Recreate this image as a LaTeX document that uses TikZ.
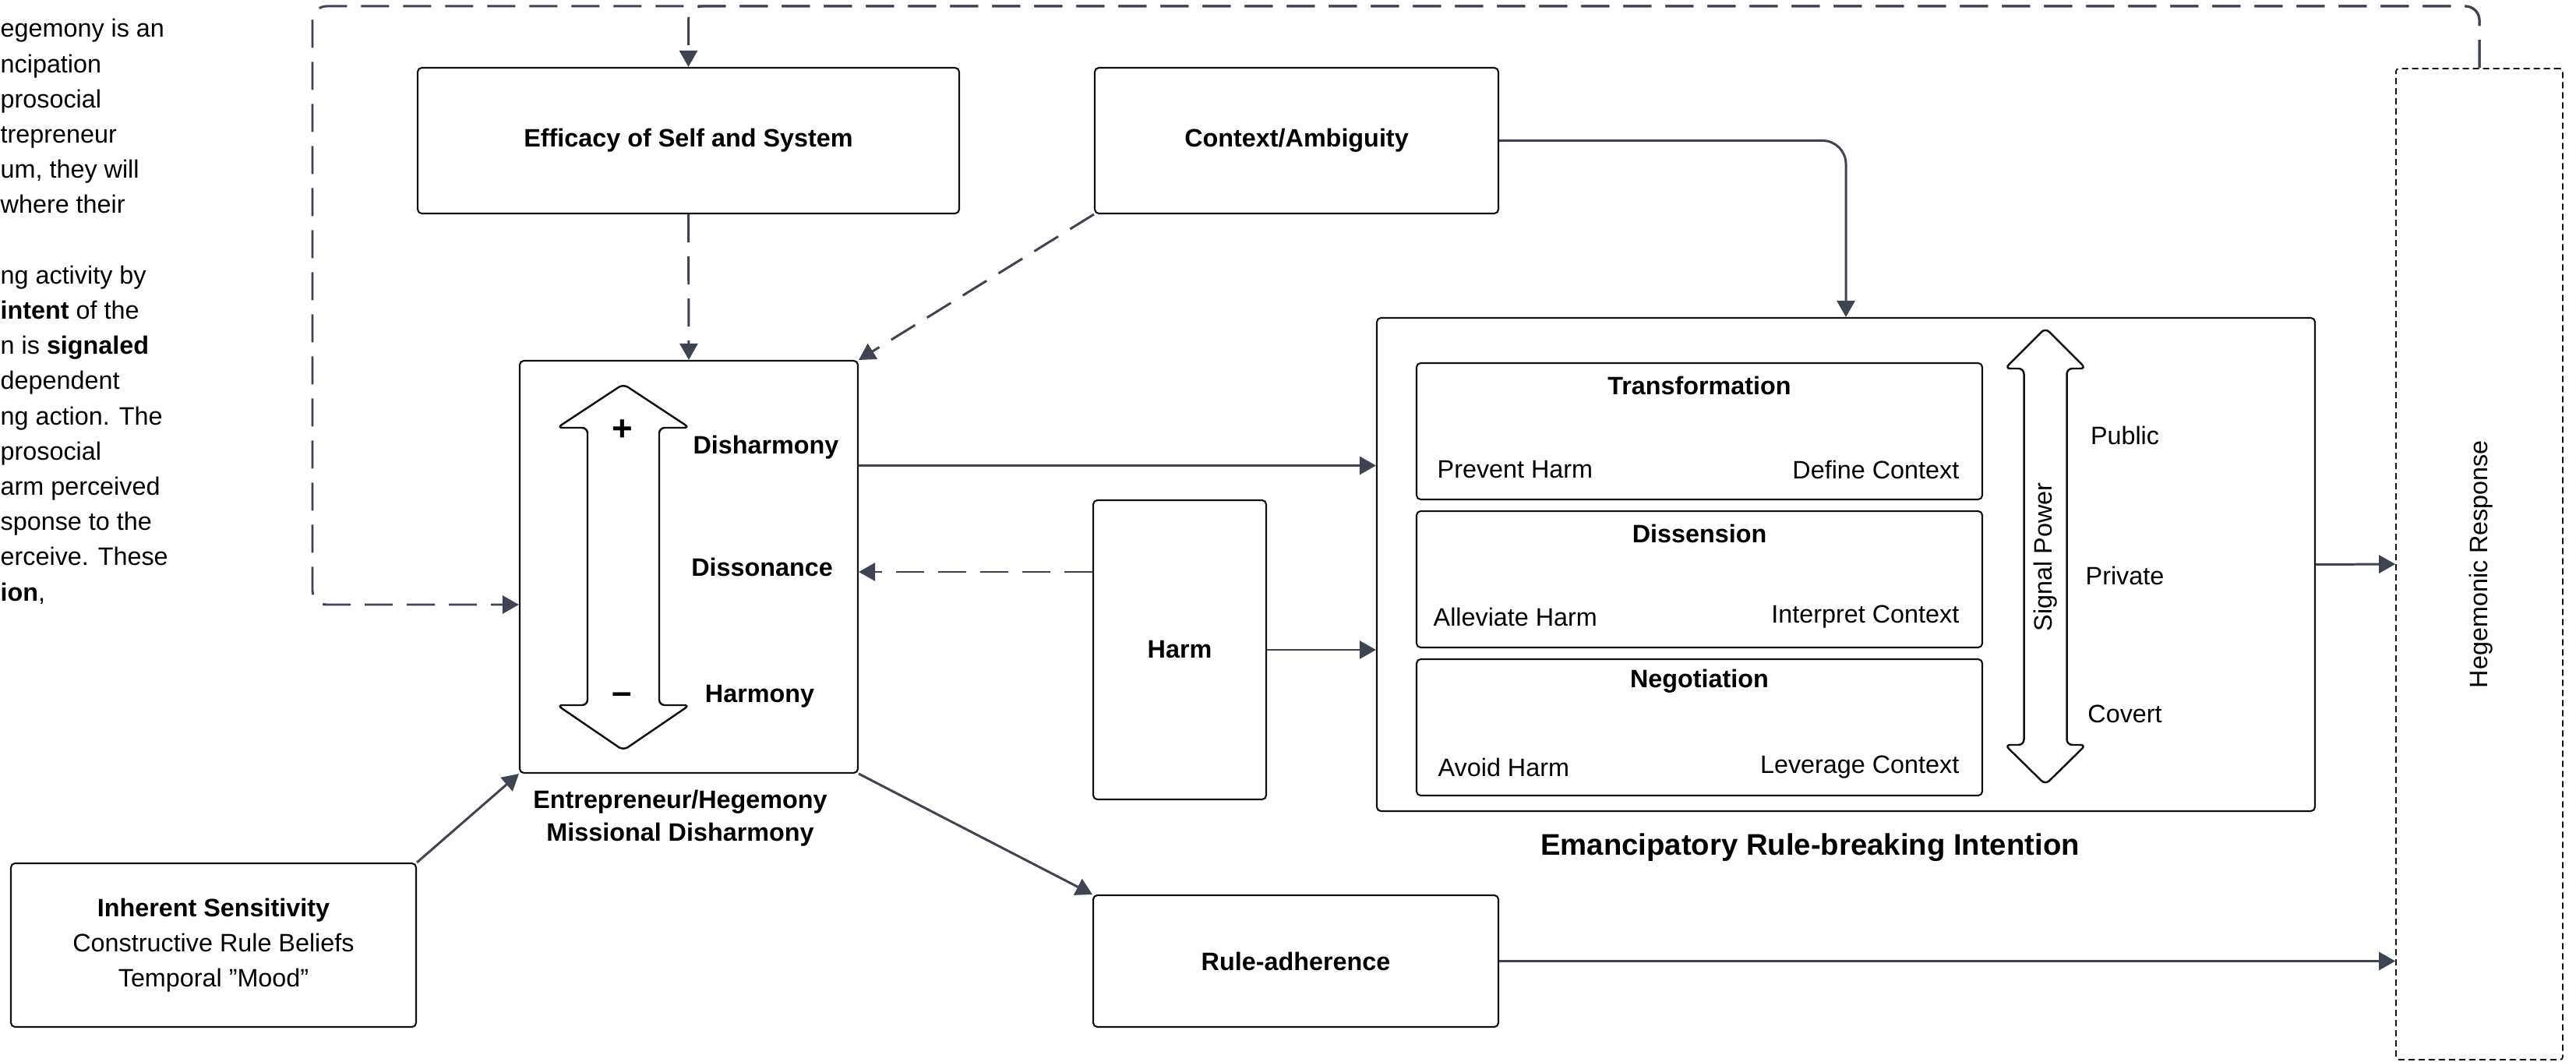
\documentclass[tikz,border=0pt]{standalone}
\usepackage{fontspec}
\setmainfont{Liberation Sans}
\usetikzlibrary{arrows.meta}
\definecolor{wire}{HTML}{3E4451}
\definecolor{ink}{HTML}{111111}

\begin{document}
\begin{tikzpicture}[
  font=\fontsize{9.2}{12.9}\selectfont,
  box/.style={draw=ink, line width=0.6pt, rounded corners=1.5pt},
  title/.style={font=\fontsize{9.2}{12.9}\selectfont\bfseries},
  lbl/.style={inner sep=0pt},
  arr/.style={draw=wire, line width=0.85pt, -{Triangle[length=0.21cm,width=0.23cm]}},
  darr/.style={arr, dash pattern=on 0.36cm off 0.18cm},
  loopback/.style={darr, rounded corners=0.18cm},
  bigarrow/.style={draw=ink, line width=0.7pt, fill=white, rounded corners=2pt}
]
\useasboundingbox (0,0) rectangle (33.06,13.62);

\foreach \txt [count=\k from 0] in {{egemony is an},{ncipation},{prosocial},{trepreneur},{um, they will},{where their},{},{ng activity by},{\textbf{intent} of the},{n is \textbf{signaled}},{dependent},{ng action. The},{prosocial},{arm perceived},{sponse to the},{erceive. These},{\textbf{ion},}}
  \node[lbl, anchor=base west] (intro\k) at (0,13.14-0.452*\k) {\txt};

\node[box, title, minimum width=6.95cm, minimum height=1.87cm] (eff) at (8.835,11.815) {Efficacy of Self and System};
\node[box, title, minimum width=5.18cm, minimum height=1.87cm] (ctx) at (16.64,11.815) {Context/Ambiguity};
\node[box, minimum width=4.34cm, minimum height=5.29cm] (ent) at (8.84,6.345) {};
\node[box, title, minimum width=2.22cm, minimum height=3.84cm] (harm) at (15.14,5.28) {Harm};
\node[box, title, minimum width=5.20cm, minimum height=1.69cm] (rule) at (16.63,1.285) {Rule-adherence};
\node[box, align=center, minimum width=5.20cm, minimum height=2.10cm] (inh) at (2.74,1.49) {\textbf{Inherent Sensitivity}\\Constructive Rule Beliefs\\Temporal "Mood"};

\draw[bigarrow] (8.00,8.69) -- (8.85,8.13) -- (8.46,8.13) -- (8.46,4.57) -- (8.85,4.57) -- (8.00,3.99) -- (7.15,4.57) -- (7.54,4.57) -- (7.54,8.13) -- (7.15,8.13) -- cycle;
\node[lbl, font=\fontsize{13}{15}\selectfont\bfseries] (plus) at (7.99,8.10) {+};
\node[lbl, font=\fontsize{13}{15}\selectfont\bfseries] (minus) at (7.98,4.66) {–};
\node[title] (dish) at (9.83,7.88) {Disharmony};
\node[title] (disso) at (9.78,6.34) {Dissonance};
\node[title] (harmo) at (9.75,4.68) {Harmony};
\node[title, align=center, font=\fontsize{9.2}{11.9}\selectfont\bfseries] (entlabel) at (8.73,3.12) {Entrepreneur/Hegemony\\Missional Disharmony};

\node[box, minimum width=12.04cm, minimum height=6.33cm] (big) at (23.69,6.375) {};
\node[box, minimum width=7.26cm, minimum height=1.75cm] (trans) at (21.81,8.085) {};
\node[box, minimum width=7.26cm, minimum height=1.75cm] (diss) at (21.81,6.185) {};
\node[box, minimum width=7.26cm, minimum height=1.75cm] (nego) at (21.81,4.285) {};

\node[title] (transT) at (21.81,8.67) {Transformation};
\node[lbl, anchor=west] (prevent) at (18.44,7.59) {Prevent Harm};
\node[lbl, anchor=east] (define) at (25.15,7.59) {Define Context};
\node[title] (dissT) at (21.81,6.77) {Dissension};
\node[lbl, anchor=west] (alleviate) at (18.39,5.70) {Alleviate Harm};
\node[lbl, anchor=east] (interpret) at (25.15,5.70) {Interpret Context};
\node[title] (negoT) at (21.81,4.88) {Negotiation};
\node[lbl, anchor=west] (avoid) at (18.45,3.77) {Avoid Harm};
\node[lbl, anchor=east] (leverage) at (25.15,3.77) {Leverage Context};

\draw[bigarrow] (26.25,9.41) -- (26.77,8.89) -- (26.525,8.89) -- (26.525,4.06) -- (26.77,4.06) -- (26.25,3.55) -- (25.73,4.06) -- (25.975,4.06) -- (25.975,8.89) -- (25.73,8.89) -- cycle;
\node[rotate=90] (signal) at (26.25,6.47) {Signal Power};
\node (public) at (27.27,8.03) {Public};
\node (private) at (27.27,6.23) {Private};
\node (covert) at (27.27,4.46) {Covert};

\node[font=\fontsize{10.9}{13}\selectfont\bfseries] (eri) at (23.23,2.74) {Emancipatory Rule-breaking Intention};

\node[draw=ink, line width=0.5pt, dash pattern=on 0.08cm off 0.05cm, rounded corners=1pt, minimum width=2.14cm, minimum height=12.72cm] (hr) at (31.82,6.38) {};
\node[rotate=90] (hrlabel) at (31.84,6.38) {Hegemonic Response};

\coordinate (loopcorner) at (4.01,13.54);

\draw[darr] (eff.south) -- (ent.north);
\draw[darr] (ctx.south west) -- (ent.north east);
\draw[arr, rounded corners=0.3cm] (ctx.east) -| (big.north);
\draw[arr] ([yshift=1.3cm]ent.east) -- ([yshift=1.3cm]ent.east -| big.west);
\draw[darr] ([yshift=1cm]harm.west) -- ([yshift=1cm]harm.west -| ent.east);
\draw[arr] (harm.east) -- (harm.east -| big.west);
\draw[arr] (big.east) -- (hr.west);
\draw[arr] (ent.south east) -- (rule.north west);
\draw[arr] (rule.east) -- (rule.east -| hr.west);
\draw[arr] (inh.north east) -- (ent.south west);
\draw[loopback] (hr.north) |- (loopcorner) |- ([yshift=-0.485cm]ent.west);
\draw[loopback] (hr.north) |- (eff.north |- loopcorner) -- (eff.north);

\end{tikzpicture}
\end{document}
